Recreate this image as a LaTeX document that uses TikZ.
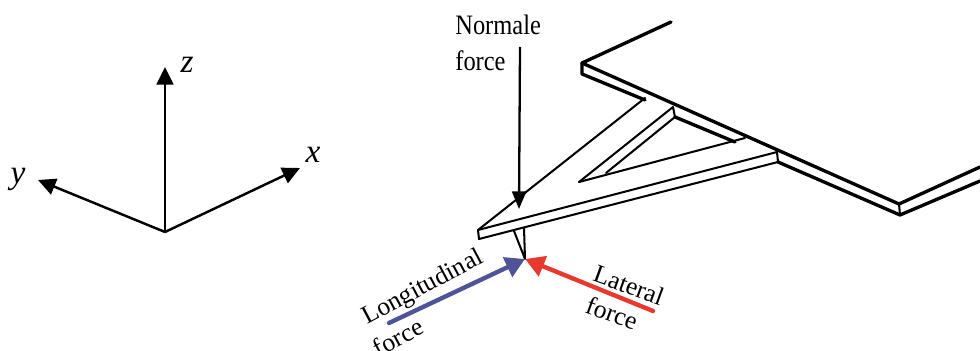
\documentclass[tikz,border=0pt]{standalone}
\usepackage{fontspec}
\usepackage{xcolor}
\usetikzlibrary{arrows.meta}
\setmainfont{Liberation Serif}
\newfontfamily\tallfont[FakeStretch=0.87]{Liberation Serif}

\begin{document}
\begin{tikzpicture}[x=0.02cm, y=-0.02cm,
    axisline/.style={line width=1.4pt, -{Triangle[length=10pt, width=9.5pt]}},
    axislabel/.style={font=\fontsize{19}{19}\selectfont\itshape, inner sep=0pt},
    edge/.style={line width=1.9pt, line cap=round, line join=round},
    thinedge/.style={line width=1.15pt, line cap=round, line join=round},
    forcelabel/.style={font=\fontsize{14.6}{14.6}\selectfont, inner sep=0pt},
    tallabel/.style={font=\tallfont\fontsize{16}{16}\selectfont, inner sep=0pt, anchor=base west},
    forcearrow/.style={line width=2.5pt, line cap=round, -{Triangle[length=11pt, width=12pt]}},
]

% Colors
\definecolor{longC}{HTML}{4F5499}
\definecolor{latC}{HTML}{E8392E}

\clip (0,0) rectangle (980,351);

% === Axes ===
\coordinate (orig) at (165,232);
\node[axislabel] (zlab) at (187,65) {z};
\node[axislabel] (xlab) at (313,155) {x};
\node[axislabel] (ylab) at (18,179) {y};
\coordinate (ztip) at (165,67);
\coordinate (xtip) at (300,168);
\coordinate (ytip) at (38,180);
\draw[axisline] (orig) -- (ztip);
\draw[axisline] (orig) -- (xtip);
\draw[axisline] (orig) -- (ytip);

% === Plate ===
\draw[edge] (671,22) -- (582,63) -- (899,204) -- (980,167);
\draw[edge] (582,63) -- (582,74) -- (645,100);
\draw[edge] (675,117) -- (735,142);
\draw[edge] (778,162) -- (900,215) -- (980,181);
\draw[thinedge] (899,204) -- (900,215);

% === Beam ===
\draw[thinedge] (478,230) -- (645,98);
\draw[thinedge] (579,182) -- (673,107) -- (675,117) -- (606,173);
\draw[thinedge] (579,182) -- (745,138);
\draw[thinedge] (478,230) -- (777,152) -- (778,162) -- (479,239) -- cycle;

% === Tip ===
\coordinate (tip) at (525,259);
\draw[thinedge] (524,228) -- (tip) -- (514,231);

% === Forces ===
\node[tallabel] (normlab) at (455,35) {Normale};
\node[tallabel] (forcelabA) at (455,71) {force};
\coordinate (normstart) at (520,47);
\coordinate (normend) at (519,209);
\draw[line width=1.3pt, -{Triangle[length=10pt, width=8pt]}] (normstart) -- (normend);

\coordinate (longstart) at (389,323);
\coordinate (latstart) at (653,311);
\draw[forcearrow, longC] (longstart) -- (tip);
\draw[forcearrow, latC] (latstart) -- (tip);

\node[forcelabel, rotate=28] (longlab) at (423,288) {Longitudinal};
\node[forcelabel, rotate=28] (forcelabB) at (398,337) {force};
\node[forcelabel, rotate=-20] (latlab) at (629,285) {Lateral};
\node[forcelabel, rotate=-20] (forcelabC) at (612,313) {force};
\end{tikzpicture}
\end{document}
